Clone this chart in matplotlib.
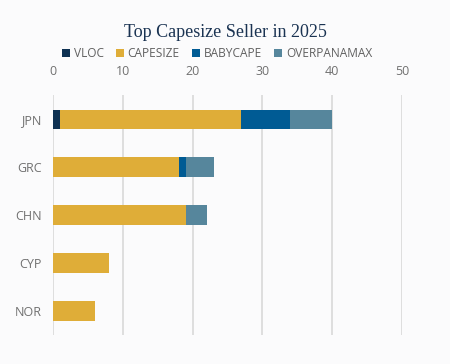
import matplotlib.pyplot as plt
import numpy as np

# data
countries = ['JPN', 'GRC', 'CHN', 'CYP', 'NOR']
vloc = [1, 0, 0, 0, 0]
capesize = [26, 18, 19, 8, 6]
babycape = [7, 1, 0, 0, 0]
overpanamax = [6, 4, 3, 0, 0]

series = [('VLOC', vloc, '#0e3152'),
          ('CAPESIZE', capesize, '#dfad38'),
          ('BABYCAPE', babycape, '#005b94'),
          ('OVERPANAMAX', overpanamax, '#56869c')]

fig = plt.figure(figsize=(4.5, 3.64), dpi=100, facecolor='#fbfbfc')
ax = fig.add_axes([0.1178, 0.0797, 0.7756, 0.659])
ax.set_facecolor('none')

y = np.arange(len(countries))
left = np.zeros(len(countries))
for name, vals, col in series:
    vals = np.array(vals, dtype=float)
    ax.barh(y, vals, left=left, height=0.4, color=col, label=name, zorder=3)
    left += vals

ax.set_xlim(0, 50)
ax.set_ylim(4.5, -0.5)
ax.set_yticks(y)
ax.set_yticklabels(countries)
ax.set_xticks(range(0, 51, 10))
ax.xaxis.tick_top()
ax.tick_params(axis='both', length=0, colors='#707070', labelsize=9, pad=8)
ax.tick_params(axis='x', pad=12)
for lbl in ax.get_xticklabels() + ax.get_yticklabels():
    lbl.set_fontfamily('Open Sans')
ax.grid(axis='x', color='#d6d6d6', linewidth=1.1, zorder=0)
for s in ax.spines.values():
    s.set_visible(False)

fig.text(0.5, 0.912, 'Top Capesize Seller in 2025', ha='center', va='center',
         fontsize=13, color='#1a3352', family='Liberation Serif')

leg = fig.legend(loc='center', bbox_to_anchor=(0.482, 0.853), ncol=4, frameon=False,
                 handlelength=0.7, handleheight=0.7, handletextpad=0.3, columnspacing=1.0,
                 prop={'family': 'Open Sans', 'size': 8.6})
for t in leg.get_texts():
    t.set_color('#606060')

plt.savefig('out.png', dpi=100, facecolor=fig.get_facecolor())
